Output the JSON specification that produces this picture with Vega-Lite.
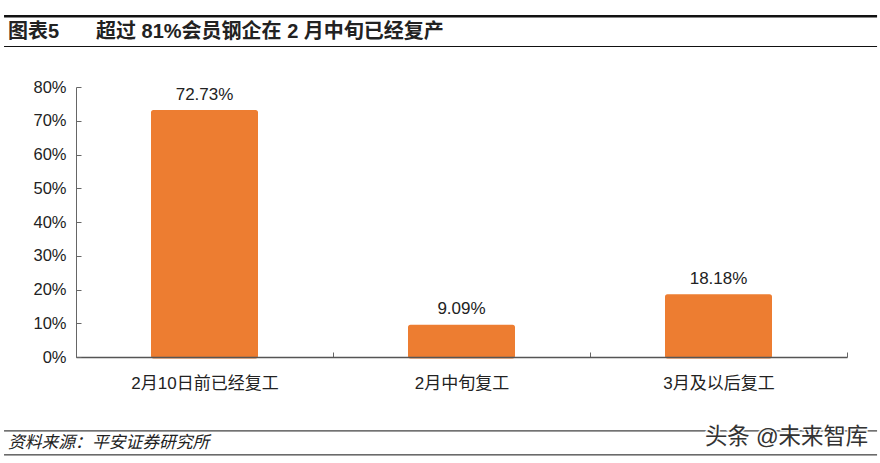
{
  "$schema": "https://vega.github.io/schema/vega-lite/v6.json",
  "description": "超过 81%会员钢企在 2 月中旬已经复产",
  "width": 771,
  "height": 270,
  "autosize": "none",
  "padding": {"left": 76, "top": 87, "right": 33, "bottom": 106},
  "background": "white",
  "config": {
    "view": {"stroke": null},
    "text": {"font": "Liberation Sans, Noto Sans CJK SC", "color": "#222222"}
  },
  "data": {
    "values": [
      {"stage": "2月10日前已经复工", "share": 72.73, "label": "72.73%"},
      {"stage": "2月中旬复工", "share": 9.09, "label": "9.09%"},
      {"stage": "3月及以后复工", "share": 18.18, "label": "18.18%"}
    ]
  },
  "resolve": {
    "scale": {"x": "independent", "y": "independent"},
    "axis": {"x": "independent", "y": "independent"}
  },
  "layer": [
    {
      "mark": {"type": "bar", "size": 104, "color": "#ED7D31", "stroke": "#ED7D31", "strokeWidth": 3, "cornerRadius": 1},
      "encoding": {
        "x": {
          "field": "stage",
          "type": "nominal",
          "sort": null,
          "scale": {"type": "band", "paddingInner": 0, "paddingOuter": 0},
          "axis": {
            "title": null,
            "labelAngle": 0,
            "labelFont": "Liberation Sans, Noto Sans CJK SC",
            "labelFontSize": 17,
            "labelColor": "#222222",
            "labelPadding": 23,
            "tickBand": "extent",
            "tickSize": -5,
            "tickColor": "#666666",
            "domainColor": "#555555",
            "domainWidth": 1.5,
            "grid": false,
            "zindex": 1
          }
        },
        "y": {
          "field": "share",
          "type": "quantitative",
          "scale": {"domain": [0, 80], "nice": false},
          "axis": {
            "title": null,
            "values": [0, 10, 20, 30, 40, 50, 60, 70, 80],
            "labelExpr": "datum.value + '%'",
            "labelFont": "Liberation Sans, Noto Sans CJK SC",
            "labelFontSize": 16.5,
            "labelColor": "#222222",
            "labelPadding": 15,
            "tickSize": -5,
            "tickColor": "#666666",
            "domainColor": "#666666",
            "grid": false,
            "zindex": 1
          }
        }
      }
    },
    {
      "mark": {"type": "text", "fontSize": 17, "dy": -17},
      "encoding": {
        "x": {"field": "stage", "type": "nominal", "sort": null, "scale": {"type": "band", "paddingInner": 0, "paddingOuter": 0}, "axis": null},
        "y": {"field": "share", "type": "quantitative", "scale": {"domain": [0, 80], "nice": false}, "axis": null},
        "text": {"field": "label"}
      }
    },
    {
      "data": {"values": [{"y": 101}]},
      "mark": {"type": "rule", "color": "#111111", "strokeWidth": 2.5},
      "encoding": {
        "x": {"datum": -0.28, "type": "quantitative", "scale": {"domain": [0, 3]}, "axis": null},
        "x2": {"datum": 3.117},
        "y": {"field": "y", "type": "quantitative", "scale": {"domain": [0, 80], "nice": false}, "axis": null}
      }
    },
    {
      "data": {"values": [{"y": 92}, {"y": -21.9}, {"y": -29}]},
      "mark": {"type": "rule", "color": "#111111", "strokeWidth": 1},
      "encoding": {
        "x": {"datum": -0.28, "type": "quantitative", "scale": {"domain": [0, 3]}, "axis": null},
        "x2": {"datum": 3.117},
        "y": {"field": "y", "type": "quantitative", "scale": {"domain": [0, 80], "nice": false}, "axis": null}
      }
    },
    {
      "data": {"values": [{"t": "图表5"}]},
      "mark": {"type": "text", "align": "left", "baseline": "middle", "fontSize": 20, "fontWeight": "bold"},
      "encoding": {
        "x": {"datum": -0.2646, "type": "quantitative", "scale": {"domain": [0, 3]}, "axis": null},
        "y": {"datum": 96.4, "type": "quantitative", "scale": {"domain": [0, 80], "nice": false}, "axis": null},
        "text": {"field": "t"}
      }
    },
    {
      "data": {"values": [{"t": "超过 81%会员钢企在 2 月中旬已经复产"}]},
      "mark": {"type": "text", "align": "left", "baseline": "middle", "fontSize": 20, "fontWeight": "bold"},
      "encoding": {
        "x": {"datum": 0.0778, "type": "quantitative", "scale": {"domain": [0, 3]}, "axis": null},
        "y": {"datum": 96.4, "type": "quantitative", "scale": {"domain": [0, 80], "nice": false}, "axis": null},
        "text": {"field": "t"}
      }
    },
    {
      "data": {"values": [{"t": "资料来源：平安证券研究所"}]},
      "mark": {"type": "text", "align": "left", "baseline": "middle", "fontSize": 16.8, "fontStyle": "italic"},
      "encoding": {
        "x": {"datum": -0.2646, "type": "quantitative", "scale": {"domain": [0, 3]}, "axis": null},
        "y": {"datum": -25.5, "type": "quantitative", "scale": {"domain": [0, 80], "nice": false}, "axis": null},
        "text": {"field": "t"}
      }
    },
    {
      "data": {"values": [{"t": "头条 @未来智库"}]},
      "mark": {"type": "text", "align": "left", "baseline": "middle", "fontSize": 22.4, "color": "#333333", "stroke": "white", "strokeWidth": 3, "strokeOpacity": 0.9},
      "encoding": {
        "x": {"datum": 2.447, "type": "quantitative", "scale": {"domain": [0, 3]}, "axis": null},
        "y": {"datum": -23.7, "type": "quantitative", "scale": {"domain": [0, 80], "nice": false}, "axis": null},
        "text": {"field": "t"}
      }
    },
    {
      "data": {"values": [{"t": "头条 @未来智库"}]},
      "mark": {"type": "text", "align": "left", "baseline": "middle", "fontSize": 22.4, "color": "#333333"},
      "encoding": {
        "x": {"datum": 2.447, "type": "quantitative", "scale": {"domain": [0, 3]}, "axis": null},
        "y": {"datum": -23.7, "type": "quantitative", "scale": {"domain": [0, 80], "nice": false}, "axis": null},
        "text": {"field": "t"}
      }
    }
  ]
}
